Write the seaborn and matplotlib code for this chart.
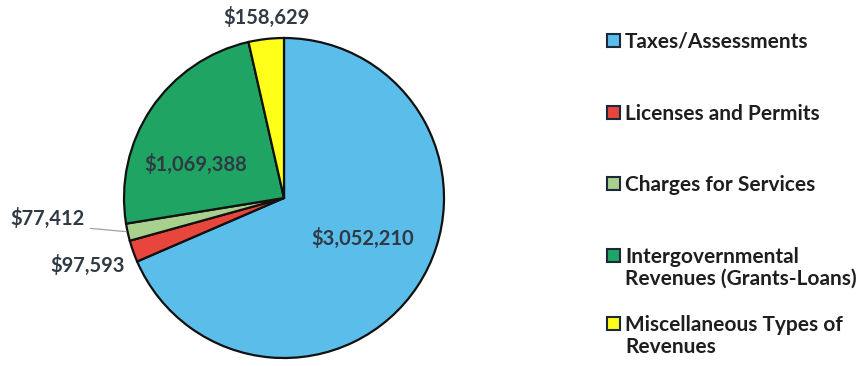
import matplotlib
matplotlib.use("Agg")
import matplotlib.pyplot as plt
from matplotlib.patches import Rectangle
import seaborn as sns

# Revenue sources and amounts
categories = [
    "Taxes/Assessments",
    "Licenses and Permits",
    "Charges for Services",
    "Intergovernmental\nRevenues (Grants-Loans)",
    "Miscellaneous Types of\nRevenues",
]
amounts = [3052210, 97593, 77412, 1069388, 158629]
value_labels = ["$3,052,210", "$97,593", "$77,412", "$1,069,388", "$158,629"]
colors = ["#5BBEEA", "#E8453C", "#A9D18E", "#1FA463", "#FFFF1A"]

# Label positions in pie units (radius = 1)
label_pos = [(0.49, -0.25), (-1.23, -0.42), (-1.48, -0.13), (-0.55, 0.21), (-0.11, 1.13)]
# Legend rows: baseline of the first text line, in pixels from the top
legend_baselines = [48, 120, 191, 263, 331]
LINE_STEP = 22

W, H = 861, 366

sns.set_theme(style="white")
plt.rcParams["font.family"] = ["Lato", "DejaVu Sans"]

fig = plt.figure(figsize=(W / 100, H / 100), dpi=100)
ax = fig.add_axes([124 / W, 8 / H, 320 / W, 320 / H])

wedges, _ = ax.pie(
    amounts,
    colors=colors,
    startangle=90,
    counterclock=False,
    wedgeprops=dict(edgecolor="#111111", linewidth=1.6),
)
ax.set_xlim(-1, 1)
ax.set_ylim(-1, 1)
ax.set_aspect("equal")
ax.axis("off")

for txt, (x, y) in zip(value_labels, label_pos):
    ax.text(x, y, txt, ha="center", va="center", fontsize=14.5, fontweight="bold",
            color="#2F3A45", clip_on=False)

# Leader line for the small Charges slice
ax.plot([-1.21, -0.99], [-0.19, -0.21], color="#9AA5A8", linewidth=0.9, clip_on=False)

# Legend: one swatch per category, aligned with the first line of its label
for label, color, base in zip(categories, colors, legend_baselines):
    fig.add_artist(Rectangle(
        (607 / W, 1 - (base - 1) / H), 13 / W, 13 / H,
        transform=fig.transFigure, facecolor=color, edgecolor="#1A2A3A", linewidth=1.5,
    ))
    for k, line in enumerate(label.split("\n")):
        fig.text(625 / W, 1 - (base + k * LINE_STEP) / H, line, ha="left", va="baseline",
                 fontsize=15, fontweight="bold", color="#1E1E1E")

fig.savefig("out.png", dpi=100, facecolor="white")
